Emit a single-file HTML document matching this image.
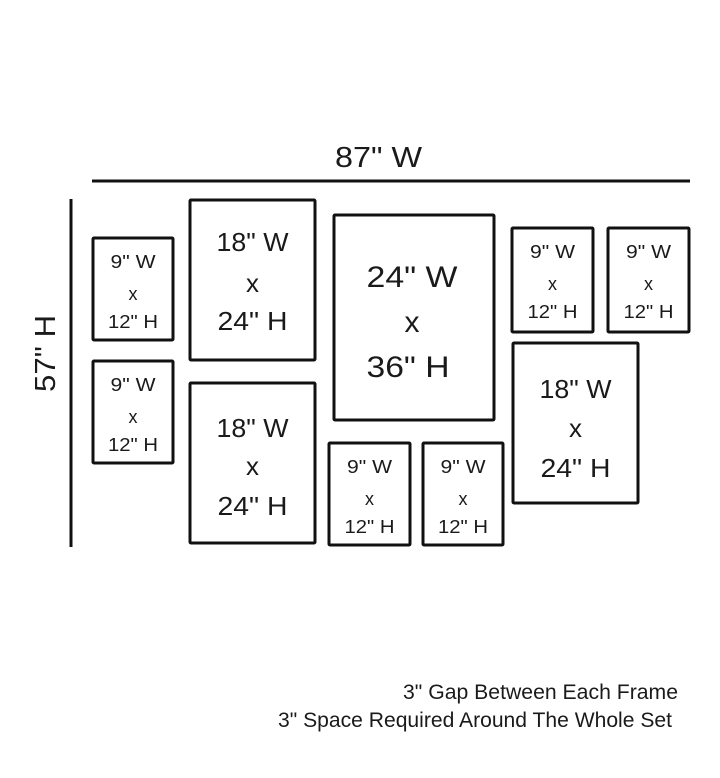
<!DOCTYPE html>
<html>
<head>
<meta charset="utf-8">
<style>
  html, body { margin: 0; padding: 0; background: #ffffff; }
  svg { display: block; }
  text { font-family: "Liberation Sans", "DejaVu Sans", sans-serif; fill: #1a1a1a; }
</style>
</head>
<body>
<svg width="720" height="778" viewBox="0 0 720 778" xmlns="http://www.w3.org/2000/svg">
  <rect x="0" y="0" width="720" height="778" fill="#ffffff"/>

  <!-- dimension lines -->
  <line x1="92" y1="181" x2="690" y2="181" stroke="#111" stroke-width="3"/>
  <line x1="71" y1="199" x2="71" y2="547" stroke="#111" stroke-width="3"/>

  <text x="335" y="167" font-size="29" textLength="87" lengthAdjust="spacingAndGlyphs">87" W</text>
  <text transform="translate(55,392) rotate(-90)" x="0" y="0" font-size="29" textLength="77" lengthAdjust="spacingAndGlyphs">57" H</text>

  <g fill="none" stroke="#111" stroke-width="3" stroke-linejoin="round">
    <!-- small frames -->
    <rect x="93" y="238" width="80" height="102" rx="1"/>
    <rect x="93" y="361" width="80" height="102" rx="1"/>
    <rect x="329" y="443" width="81" height="102" rx="1"/>
    <rect x="423" y="443" width="80" height="102" rx="1"/>
    <rect x="512" y="228" width="81" height="104" rx="1"/>
    <rect x="608" y="228" width="81" height="104" rx="1"/>
    <!-- 18x24 frames -->
    <rect x="190" y="200" width="125" height="160" rx="1"/>
    <rect x="190" y="383" width="125" height="160" rx="1"/>
    <rect x="513" y="343" width="125" height="160" rx="1"/>
    <!-- big frame -->
    <rect x="334" y="215" width="160" height="205" rx="1"/>
  </g>

  <g text-anchor="middle">
    <!-- small frame A -->
    <text x="133" y="268" font-size="18" textLength="45" lengthAdjust="spacingAndGlyphs">9" W</text>
    <text x="133" y="300" font-size="18">x</text>
    <text x="133" y="328" font-size="18" textLength="50" lengthAdjust="spacingAndGlyphs">12" H</text>
    <!-- small frame B -->
    <text x="133" y="391" font-size="18" textLength="45" lengthAdjust="spacingAndGlyphs">9" W</text>
    <text x="133" y="423" font-size="18">x</text>
    <text x="133" y="451" font-size="18" textLength="50" lengthAdjust="spacingAndGlyphs">12" H</text>
    <!-- small frame C -->
    <text x="369.5" y="473" font-size="18" textLength="45" lengthAdjust="spacingAndGlyphs">9" W</text>
    <text x="369.5" y="505" font-size="18">x</text>
    <text x="369.5" y="533" font-size="18" textLength="50" lengthAdjust="spacingAndGlyphs">12" H</text>
    <!-- small frame D -->
    <text x="463" y="473" font-size="18" textLength="45" lengthAdjust="spacingAndGlyphs">9" W</text>
    <text x="463" y="505" font-size="18">x</text>
    <text x="463" y="533" font-size="18" textLength="50" lengthAdjust="spacingAndGlyphs">12" H</text>
    <!-- small frame E -->
    <text x="552.5" y="258" font-size="18" textLength="45" lengthAdjust="spacingAndGlyphs">9" W</text>
    <text x="552.5" y="290" font-size="18">x</text>
    <text x="552.5" y="318" font-size="18" textLength="50" lengthAdjust="spacingAndGlyphs">12" H</text>
    <!-- small frame F -->
    <text x="648.5" y="258" font-size="18" textLength="45" lengthAdjust="spacingAndGlyphs">9" W</text>
    <text x="648.5" y="290" font-size="18">x</text>
    <text x="648.5" y="318" font-size="18" textLength="50" lengthAdjust="spacingAndGlyphs">12" H</text>

    <!-- 18x24 G -->
    <text x="252.5" y="251" font-size="26" textLength="72" lengthAdjust="spacingAndGlyphs">18" W</text>
    <text x="252.5" y="292" font-size="26">x</text>
    <text x="252.5" y="330" font-size="26" textLength="70" lengthAdjust="spacingAndGlyphs">24" H</text>
    <!-- 18x24 H -->
    <text x="252.5" y="437" font-size="26" textLength="72" lengthAdjust="spacingAndGlyphs">18" W</text>
    <text x="252.5" y="475" font-size="26">x</text>
    <text x="252.5" y="515" font-size="26" textLength="70" lengthAdjust="spacingAndGlyphs">24" H</text>
    <!-- 18x24 I -->
    <text x="575.5" y="398" font-size="26" textLength="72" lengthAdjust="spacingAndGlyphs">18" W</text>
    <text x="575.5" y="437" font-size="26">x</text>
    <text x="575.5" y="477" font-size="26" textLength="70" lengthAdjust="spacingAndGlyphs">24" H</text>

    <!-- big frame -->
    <text x="412" y="287" font-size="30" textLength="91" lengthAdjust="spacingAndGlyphs">24" W</text>
    <text x="412" y="332" font-size="30">x</text>
    <text x="408" y="377" font-size="30" textLength="83" lengthAdjust="spacingAndGlyphs">36" H</text>
  </g>

  <!-- notes -->
  <text x="403" y="699" font-size="21" textLength="275" lengthAdjust="spacingAndGlyphs">3" Gap Between Each Frame</text>
  <text x="278" y="727" font-size="21" textLength="394" lengthAdjust="spacingAndGlyphs">3" Space Required Around The Whole Set</text>
</svg>
</body>
</html>
